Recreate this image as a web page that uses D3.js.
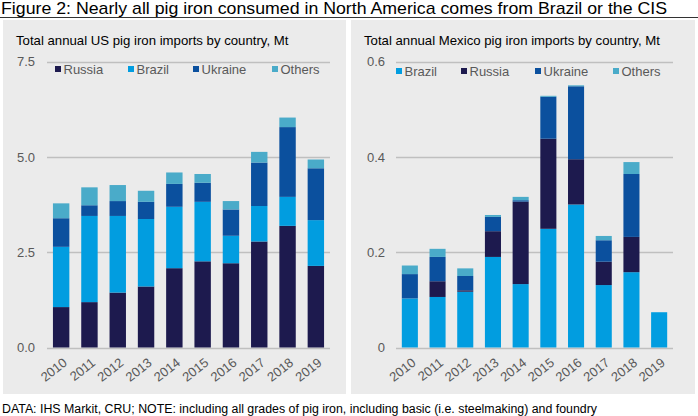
<!DOCTYPE html>
<html>
<head>
<meta charset="utf-8">
<script src="https://cdn.jsdelivr.net/npm/d3@7"></script>
<style>
  body { margin: 0; background: #fff; }
  svg { display: block; font-family: "Liberation Sans", Arial, sans-serif; }
  .tick text { fill: #595959; }
</style>
</head>
<body>
<script>
// years shared by both panels
var years = ["2010", "2011", "2012", "2013", "2014", "2015", "2016", "2017", "2018", "2019"];

// US imports, Mt
var usRussia  = [1.06, 1.19, 1.44, 1.60, 2.08, 2.26, 2.21, 2.78, 3.19, 2.14];
var usBrazil  = [1.58, 2.26, 2.01, 1.77, 1.61, 1.56, 0.72, 0.93, 0.76, 1.20];
var usUkraine = [0.75, 0.28, 0.39, 0.45, 0.60, 0.50, 0.69, 1.14, 1.83, 1.36];
var usOthers  = [0.39, 0.47, 0.42, 0.29, 0.30, 0.23, 0.22, 0.28, 0.25, 0.23];
var usTicks = [0, 2.5, 5, 7.5];

// Mexico imports, Mt
var mxBrazil  = [0.103, 0.106, 0.117, 0.190, 0.133, 0.249, 0.300, 0.131, 0.158, 0.074];
var mxRussia  = [0.000, 0.033, 0.003, 0.054, 0.173, 0.189, 0.095, 0.049, 0.074, 0.000];
var mxUkraine = [0.051, 0.051, 0.030, 0.030, 0.003, 0.088, 0.153, 0.045, 0.132, 0.000];
var mxOthers  = [0.018, 0.017, 0.016, 0.004, 0.007, 0.002, 0.002, 0.009, 0.025, 0.000];
var mxTicks = [0, 0.2, 0.4, 0.6];

var colors = {
    Russia: "#1d1a4e",
    Brazil: "#019de0",
    Ukraine: "#0b509e",
    Others: "#4aabc9"
};

var width = 698, height = 416;

var svg = d3.select("body").append("svg")
    .attr("width", width)
    .attr("height", height);

//figure title and rule
svg.append("text")
    .attr("x", 1).attr("y", 13.5)
    .style("font-size", "17px")
    .attr("textLength", 666)
    .attr("lengthAdjust", "spacingAndGlyphs")
    .attr("fill", "#000")
    .text("Figure 2: Nearly all pig iron consumed in North America comes from Brazil or the CIS");

svg.append("line")
    .attr("x1", 0).attr("x2", width)
    .attr("y1", 17.5).attr("y2", 17.5)
    .attr("stroke", "#333").attr("stroke-width", 1);

//footer
svg.append("text")
    .attr("x", 2).attr("y", 412.5)
    .style("font-size", "12.3px")
    .attr("textLength", 595)
    .attr("lengthAdjust", "spacingAndGlyphs")
    .attr("fill", "#000")
    .text("DATA: IHS Markit, CRU;  NOTE: including all grades of pig iron, including basic (i.e. steelmaking) and foundry");

function makePanel(opts) {
    var g = svg.append("g");

    //panel background
    g.append("rect")
        .attr("x", opts.px).attr("y", 20)
        .attr("width", opts.pw).attr("height", 374)
        .attr("fill", "#ebebeb");

    g.append("text")
        .attr("x", opts.px + 13).attr("y", 45)
        .style("font-size", "13.2px")
        .attr("fill", "#000")
        .text(opts.title);

    var x = d3.scaleBand()
        .domain(years)
        .range([opts.x0, opts.x1])
        .paddingInner(0.42)
        .paddingOuter(0.21);

    var y = d3.scaleLinear()
        .domain([0, opts.max])
        .range([347.5, 61.5]);

    //gridlines
    g.append("g").selectAll("line")
        .data(opts.ticks)
        .enter().append("line")
        .attr("x1", opts.x0).attr("x2", opts.x1)
        .attr("y1", function (d) { return Math.round(y(d)) + 0.5; })
        .attr("y2", function (d) { return Math.round(y(d)) + 0.5; })
        .attr("stroke", "#bfbfbf").attr("stroke-width", 1.5);

    //y axis labels
    var yAxis = d3.axisLeft(y)
        .tickValues(opts.ticks)
        .tickFormat(opts.fmt)
        .tickSize(0)
        .tickPadding(0);

    g.append("g")
        .attr("transform", "translate(" + opts.labelX + ",0)")
        .call(yAxis)
        .call(function (s) { s.select(".domain").remove(); })
        .selectAll("text")
        .style("font-size", "13px")
        .style("font-family", "Liberation Sans, Arial, sans-serif");

    //stacked bars
    var rows = years.map(function (yr, i) {
        var r = { year: yr };
        opts.series.forEach(function (s) { r[s.name] = s.values[i]; });
        return r;
    });
    var keys = opts.series.map(function (s) { return s.name; });
    var stack = d3.stack().keys(keys)(rows);

    g.append("g").selectAll("g")
        .data(stack)
        .enter().append("g")
        .attr("fill", function (d) { return colors[d.key]; })
        .selectAll("rect")
        .data(function (d) { return d; })
        .enter().append("rect")
        .attr("x", function (d) { return x(d.data.year); })
        .attr("width", x.bandwidth())
        .attr("y", function (d) { return y(d[1]); })
        .attr("height", function (d) { return y(d[0]) - y(d[1]); });

    //x axis labels, rotated
    var xAxis = d3.axisBottom(x).tickSize(0).tickPadding(0);
    var xg = g.append("g")
        .attr("transform", "translate(0,357)")
        .call(xAxis);
    xg.select(".domain").remove();
    xg.selectAll("text")
        .style("font-size", "13px")
        .style("font-family", "Liberation Sans, Arial, sans-serif")
        .attr("text-anchor", "end")
        .attr("dy", "0.72em")
        .attr("transform", "translate(1,0) rotate(-38)");

    //legend
    var leg = g.append("g").selectAll("g")
        .data(opts.series)
        .enter().append("g")
        .attr("transform", function (d, i) { return "translate(" + opts.legX[i] + "," + opts.legY + ")"; });
    leg.append("rect")
        .attr("x", 0).attr("y", -4)
        .attr("width", 6).attr("height", 6)
        .attr("fill", function (d) { return colors[d.name]; });
    leg.append("text")
        .attr("x", 8.5).attr("y", 0)
        .attr("dy", "0.32em")
        .style("font-size", "13px")
        .attr("fill", "#595959")
        .text(function (d) { return d.name; });
}

makePanel({
    px: 3, pw: 343,
    title: "Total annual US pig iron imports by country, Mt",
    x0: 47, x1: 330,
    max: 7.5, ticks: usTicks,
    fmt: d3.format(".1f"),
    labelX: 35,
    legX: [55, 128, 193, 272], legY: 70,
    series: [
        { name: "Russia", values: usRussia },
        { name: "Brazil", values: usBrazil },
        { name: "Ukraine", values: usUkraine },
        { name: "Others", values: usOthers }
    ]
});

makePanel({
    px: 351, pw: 344,
    title: "Total annual Mexico pig iron imports by country, Mt",
    x0: 396, x1: 673,
    max: 0.6, ticks: mxTicks,
    fmt: function (d) { return d === 0 ? "0" : d3.format(".1f")(d); },
    labelX: 385,
    legX: [396, 461, 535, 613], legY: 72,
    series: [
        { name: "Brazil", values: mxBrazil },
        { name: "Russia", values: mxRussia },
        { name: "Ukraine", values: mxUkraine },
        { name: "Others", values: mxOthers }
    ]
});
</script>
</body>
</html>
